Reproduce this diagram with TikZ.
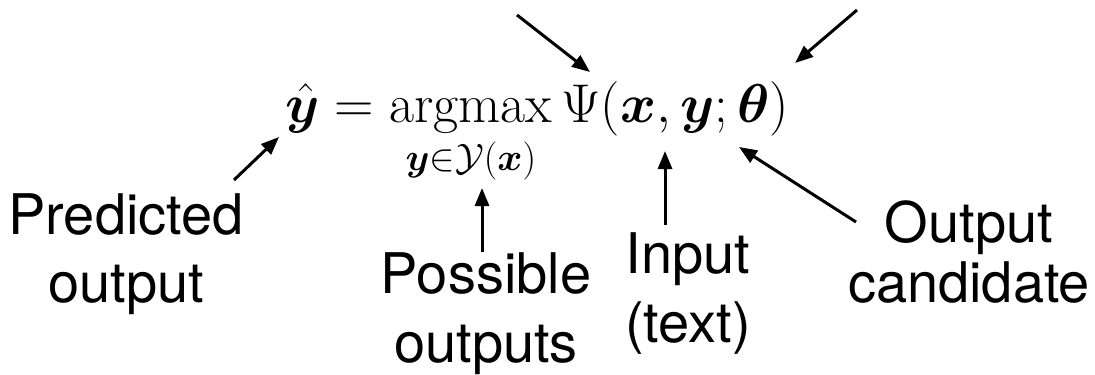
\RequirePackage{fix-cm}
\documentclass[tikz,border=0pt]{standalone}
\usepackage{amsmath,bm}
\usepackage{fontspec}
\newfontfamily\labfont{TeX Gyre Heros}
\usetikzlibrary{arrows.meta}
\newcommand\twolines[3]{\fontsize{28}{#1}\selectfont\begin{tabular}[t]{@{}c@{}}#2\\#3\end{tabular}}
\tikzset{
  lab/.style={font=\labfont, inner sep=0pt, anchor=base},
  ptr/.style={line width=1.5pt, -{Triangle[length=9pt,width=7pt]}},
}
\begin{document}
\begin{tikzpicture}[x=0.5pt,y=-0.5pt]
\useasboundingbox (0,0) rectangle (1095,374);
\node[inner sep=0pt, anchor=base west] (eq) at (285,122)
  {\fontsize{27.3}{32}\selectfont$\displaystyle \hat{\bm{y}} = \operatorname*{argmax}_{\bm{y}\in\mathcal{Y}(\bm{x})} \Psi(\bm{x},\bm{y};\bm{\theta})$};
\node[lab] (pred) at (126,234) {\twolines{34}{Predicted}{output}};
\node[lab] (poss) at (486,293) {\twolines{34.5}{Possible}{outputs}};
\node[lab] (inp) at (688,273) {\twolines{34.5}{Input}{(text)}};
\node[lab] (cand) at (969,242) {\twolines{30}{Output}{candidate}};
% arrow ends
\coordinate (t1) at (517,15);   \coordinate (psi) at (590,72);
\coordinate (t2) at (857,10);   \coordinate (theta) at (795,63);
\coordinate (p0) at (234,180);  \coordinate (yhat) at (279,137);
\coordinate (s0) at (482,252);  \coordinate (sub) at (482,188);
\coordinate (i0) at (665,225);  \coordinate (xx) at (665,151);
\coordinate (c0) at (856,222);  \coordinate (yy) at (739,147);
\draw[ptr] (t1) -- (psi);
\draw[ptr] (t2) -- (theta);
\draw[ptr] (p0) -- (yhat);
\draw[ptr] (s0) -- (sub);
\draw[ptr] (i0) -- (xx);
\draw[ptr] (c0) -- (yy);
\end{tikzpicture}
\end{document}
